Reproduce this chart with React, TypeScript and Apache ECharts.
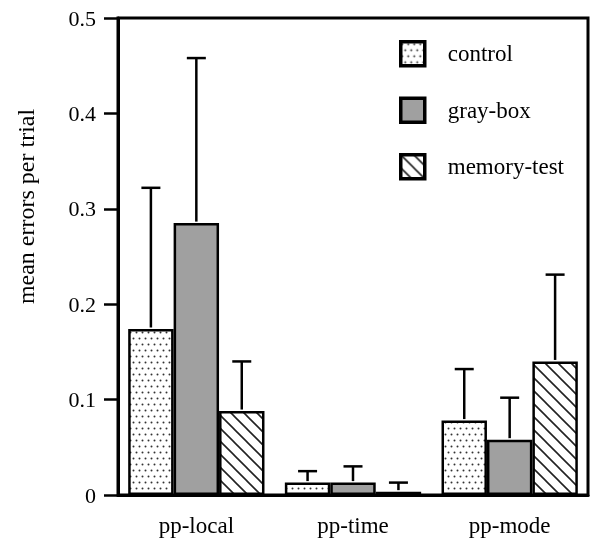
import React, { useEffect, useRef } from "react";
import * as echarts from "echarts";

const categories = ["pp-local", "pp-time", "pp-mode"];
const seriesNames = ["control", "gray-box", "memory-test"];
const controlMeans = [0.174, 0.013, 0.078];
const grayBoxMeans = [0.285, 0.013, 0.058];
const memoryTestMeans = [0.088, 0.0035, 0.140];
const controlErrTop = [0.322, 0.025, 0.132];
const grayBoxErrTop = [0.458, 0.030, 0.102];
const memoryTestErrTop = [0.140, 0.013, 0.231];
const yTicks = [0, 0.1, 0.2, 0.3, 0.4, 0.5];

const FONT = "Liberation Serif";
const GAP = 0.13;

function dotPattern() {
  const c = document.createElement("canvas");
  c.width = 6;
  c.height = 12;
  const g = c.getContext("2d")!;
  g.fillStyle = "#fff";
  g.fillRect(0, 0, 6, 12);
  g.fillStyle = "#333";
  g.beginPath();
  g.arc(1.5, 2.5, 1.0, 0, Math.PI * 2);
  g.fill();
  g.beginPath();
  g.arc(4.5, 8.5, 1.0, 0, Math.PI * 2);
  g.fill();
  return { image: c, repeat: "repeat" } as any;
}

function hatchPattern() {
  const s = 13;
  const c = document.createElement("canvas");
  c.width = s;
  c.height = s;
  const g = c.getContext("2d")!;
  g.fillStyle = "#fff";
  g.fillRect(0, 0, s, s);
  g.strokeStyle = "#222";
  g.lineWidth = 1.6;
  g.beginPath();
  g.moveTo(-2, -2);
  g.lineTo(s + 2, s + 2);
  g.moveTo(-2, s - 2);
  g.lineTo(2, s + 2);
  g.moveTo(s - 2, -2);
  g.lineTo(s + 2, 2);
  g.stroke();
  return { image: c, repeat: "repeat" } as any;
}

export default function App() {
  const ref = useRef<HTMLDivElement>(null);
  useEffect(() => {
    if (!ref.current) return;
    const chart = echarts.init(ref.current, undefined, { renderer: "svg" });
    const fills = [dotPattern(), "#a0a0a0", hatchPattern()];
    const means = [controlMeans, grayBoxMeans, memoryTestMeans];
    const errs = [controlErrTop, grayBoxErrTop, memoryTestErrTop];

    const barSeries = seriesNames.map((name, i) => ({
      name,
      type: "bar",
      data: means[i],
      barGap: "0%",
      barCategoryGap: GAP * 100 + "%",
      itemStyle: { color: fills[i], borderColor: "#000", borderWidth: 2.5 },
      z: 2,
    }));

    const errSeries = seriesNames.map((name, si) => ({
      name: name + "-err",
      type: "custom",
      z: 3,
      data: categories.map((_, ci) => [ci, errs[si][ci], means[si][ci]]),
      renderItem: (params: any, api: any) => {
        const ci = api.value(0);
        const top = api.coord([ci, api.value(1)]);
        const base = api.coord([ci, api.value(2)]);
        const band = api.size([1, 0])[0];
        const groupW = band * (1 - GAP);
        const barW = groupW / 3;
        const x = top[0] - groupW / 2 + barW * (si + 0.5);
        const st = { stroke: "#000", lineWidth: 2.5 };
        return {
          type: "group",
          children: [
            { type: "line", shape: { x1: x, y1: base[1] - 1.5, x2: x, y2: top[1] }, style: st },
            { type: "line", shape: { x1: x - 9.5, y1: top[1], x2: x + 9.5, y2: top[1] }, style: st },
          ],
        };
      },
    }));

    chart.setOption({
      animation: false,
      grid: {
        left: 118,
        right: 4,
        top: 18,
        bottom: 46,
        show: true,
        borderColor: "#000",
        borderWidth: 3,
      },
      legend: {
        data: seriesNames,
        orient: "vertical",
        icon: "rect",
        left: 394,
        top: 35,
        itemWidth: 24,
        itemHeight: 24,
        itemGap: 29,
        itemStyle: { borderColor: "#000", borderWidth: 3.5 },
        textStyle: { fontFamily: FONT, fontSize: 23, color: "#000", padding: [0, 0, 0, 18] },
      },
      xAxis: {
        type: "category",
        data: categories,
        axisLine: { lineStyle: { color: "#000", width: 3 } },
        axisTick: { alignWithLabel: true, length: 8, lineStyle: { color: "#000", width: 2.5 } },
        axisLabel: { fontFamily: FONT, fontSize: 23, color: "#000", margin: 19 },
      },
      yAxis: {
        type: "value",
        min: 0,
        max: 0.5,
        interval: 0.1,
        name: "mean errors per trial",
        nameLocation: "middle",
        nameGap: 80,
        nameTextStyle: {
          fontFamily: FONT,
          fontSize: 24,
          color: "#000",
          padding: [0, 0, 0, 100],
        },
        axisLine: { show: true, lineStyle: { color: "#000", width: 3 } },
        axisTick: { show: true, length: 14, lineStyle: { color: "#000", width: 2.5 } },
        splitLine: { show: false },
        axisLabel: {
          fontFamily: FONT,
          fontSize: 22,
          color: "#000",
          margin: 22,
          formatter: (v: number) => {
            const t = yTicks.find((k) => Math.abs(k - v) < 1e-9);
            return t === 0 ? "0" : String(t !== undefined ? t : v);
          },
        },
      },
      series: [...barSeries, ...errSeries],
    });
    return () => chart.dispose();
  }, []);
  return (
    <div
      ref={ref}
      style={{ position: "fixed", left: 0, top: 0, width: 592, height: 541 }}
    />
  );
}
